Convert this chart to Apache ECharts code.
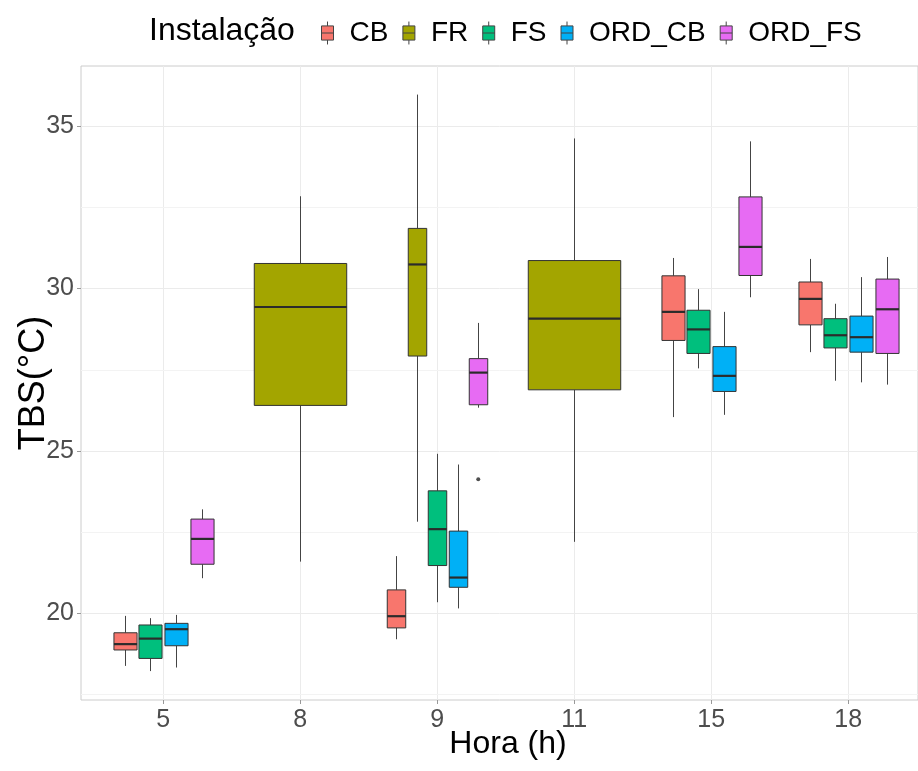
<!DOCTYPE html>
<html>

<head>
  <meta charset="utf-8" />
  <title>TBS por hora</title>
  <script src="https://cdn.jsdelivr.net/npm/echarts@6/dist/echarts.min.js"></script>
  <style>
    html, body {
      margin: 0;
      padding: 0;
      background: #fff;
    }

    #main {
      width: 918px;
      height: 771px;
    }
  </style>
</head>

<body>
  <div id="main"></div>

  <script>
    // horas (eixo x) e instalações
    var hours = ['5', '8', '9', '11', '15', '18'];
    var groups = ['CB', 'FR', 'FS', 'ORD_CB', 'ORD_FS'];
    var colors = ['#F8766D', '#A3A500', '#00BF7D', '#00B0F6', '#E76BF3'];

    // [min, q1, mediana, q3, max] por hora, null = sem dados
    var cbStats = [[18.38, 18.87, 19.05, 19.40, 19.92], null, [19.20, 19.55, 19.91, 20.72, 21.76], null,
      [26.04, 28.40, 29.28, 30.39, 30.94], [28.04, 28.88, 29.68, 30.20, 30.91]];
    var frStats = [null, [21.59, 26.40, 29.43, 30.77, 32.84], [22.82, 27.92, 30.74, 31.85, 35.97],
      [22.20, 26.88, 29.07, 30.86, 34.62], null, null];
    var fsStats = [[18.22, 18.61, 19.22, 19.64, 19.85], null, [20.34, 21.47, 22.59, 23.77, 24.91], null,
      [27.54, 28.00, 28.74, 29.33, 29.98], [27.16, 28.17, 28.56, 29.07, 29.53]];
    var ordCbStats = [[18.33, 19.00, 19.51, 19.69, 19.95], null, [20.15, 20.80, 21.10, 22.53, 24.58], null,
      [26.11, 26.83, 27.31, 28.21, 29.28], [27.11, 28.04, 28.50, 29.15, 30.35]];
    var ordFsStats = [[21.08, 21.51, 22.29, 22.90, 23.20], null, [26.33, 26.42, 27.41, 27.84, 28.94], null,
      [29.73, 30.40, 31.28, 32.82, 34.53], [27.04, 28.00, 29.36, 30.29, 30.97]];
    // pontos fora (grupo, índice da hora, valor)
    var outliers = [['ORD_FS', 2, 24.13]];

    var yTicks = [20, 25, 30, 35];
    var yMinor = [17.5, 22.5, 27.5, 32.5];

    var allStats = [cbStats, frStats, fsStats, ordCbStats, ordFsStats];
    var DODGE = 0.75;
    var PAD = 0.1;

    // posição de cada caixa dentro da hora (dodge)
    function slotOf(g, h) {
      var present = [];
      for (var i = 0; i < groups.length; i++) {
        if (allStats[i][h]) present.push(i);
      }
      return [present.indexOf(g), present.length];
    }

    function renderBox(params, api) {
      var cat = api.value(0), slot = api.value(1), n = api.value(2);
      var slotW = DODGE / n;
      var xc = cat - DODGE / 2 + slotW * (slot + 0.5);
      var hw = api.size([slotW * (1 - PAD), 0])[0] / 2;
      var lo = api.coord([xc, api.value(3)]);
      var q1 = api.coord([xc, api.value(4)]);
      var med = api.coord([xc, api.value(5)]);
      var q3 = api.coord([xc, api.value(6)]);
      var hi = api.coord([xc, api.value(7)]);
      var x = Math.round(lo[0]) + 0.5;
      return {
        type: 'group',
        children: [
          { type: 'line', shape: { x1: x, y1: hi[1], x2: x, y2: q3[1] }, style: { stroke: '#444', lineWidth: 1 } },
          { type: 'line', shape: { x1: x, y1: q1[1], x2: x, y2: lo[1] }, style: { stroke: '#444', lineWidth: 1 } },
          {
            type: 'rect',
            shape: { x: x - hw, y: q3[1], width: 2 * hw, height: q1[1] - q3[1] },
            style: { fill: api.visual('color'), stroke: '#333', lineWidth: 1 }
          },
          { type: 'line', shape: { x1: x - hw, y1: med[1], x2: x + hw, y2: med[1] }, style: { stroke: '#2b2b2b', lineWidth: 2.2 } }
        ]
      };
    }

    // linha menor horizontal atravessando o painel
    function renderMinor(params, api) {
      var cs = params.coordSys;
      var y = Math.round(api.coord([0, api.value(0)])[1]) + 0.5;
      return {
        type: 'line',
        shape: { x1: cs.x, y1: y, x2: cs.x + cs.width, y2: y },
        style: { stroke: '#F3F3F3', lineWidth: 1 }
      };
    }

    var series = [];
    series.push({
      type: 'custom',
      z: 1,
      silent: true,
      renderItem: renderMinor,
      encode: { y: 0 },
      data: yMinor.map(function (v) { return [v]; })
    });

    groups.forEach(function (name, g) {
      var data = [];
      allStats[g].forEach(function (s, h) {
        if (!s) return;
        var pos = slotOf(g, h);
        data.push([h, pos[0], pos[1]].concat(s));
      });
      series.push({
        name: name,
        type: 'custom',
        z: 3,
        itemStyle: { color: colors[g] },
        renderItem: renderBox,
        encode: { x: 0, y: 5 },
        data: data
      });
    });

    series.push({
      type: 'scatter',
      z: 4,
      symbolSize: 4,
      itemStyle: { color: '#222' },
      data: outliers.map(function (o) {
        var g = groups.indexOf(o[0]);
        var pos = slotOf(g, o[1]);
        var slotW = DODGE / pos[1];
        return [o[1] - DODGE / 2 + slotW * (pos[0] + 0.5), o[2]];
      })
    });

    var boxIcon = 'path://M0,4H11V17H0Z M0,10.5H11 M5.5,0V4 M5.5,17V21';

    var chart = echarts.init(document.getElementById('main'));
    chart.setOption({
      backgroundColor: '#fff',
      animation: false,
      textStyle: { fontFamily: 'Liberation Sans' },
      grid: {
        left: 81,
        right: -1,
        top: 66,
        bottom: 71,
        show: true,
        backgroundColor: '#fff',
        borderColor: '#CCCCCC',
        borderWidth: 1
      },
      legend: {
        left: 316,
        top: 12,
        itemWidth: 12,
        itemHeight: 23,
        itemGap: 14,
        icon: boxIcon,
        itemStyle: { borderColor: '#444', borderWidth: 1 },
        textStyle: { fontSize: 28, color: '#000', padding: [2, 0, 0, 11], lineHeight: 30 },
        data: groups
      },
      graphic: [
        {
          type: 'text', left: 149, top: 15,
          style: { text: 'Instalação', font: '32px "Liberation Sans"', fill: '#000' }
        },
        {
          type: 'text', x: 508, y: 744,
          style: {
            text: 'Hora (h)', font: '32px "Liberation Sans"', fill: '#000',
            align: 'center', verticalAlign: 'middle', textAlign: 'center', textVerticalAlign: 'middle'
          }
        },
        {
          type: 'text', x: 34, y: 383, rotation: Math.PI / 2,
          style: {
            text: 'TBS(°C)', font: '36px "Liberation Sans"', fill: '#000',
            align: 'center', verticalAlign: 'middle', textAlign: 'center', textVerticalAlign: 'middle'
          }
        }
      ],
      xAxis: {
        type: 'value',
        min: -0.6,
        max: 5.51,
        axisLine: { show: false, onZero: false },
        axisTick: { show: true, length: 4, lineStyle: { color: '#999' }, customValues: [0, 1, 2, 3, 4, 5] },
        axisLabel: {
          customValues: [0, 1, 2, 3, 4, 5],
          formatter: function (v) { return hours[Math.round(v)]; },
          fontSize: 25,
          color: '#4D4D4D',
          margin: 8
        },
        splitLine: { show: true, lineStyle: { color: '#EBEBEB', width: 1 } }
      },
      yAxis: {
        type: 'value',
        min: 17.33,
        max: 36.85,
        axisLine: { show: false, onZero: false },
        axisTick: { show: true, length: 4, lineStyle: { color: '#999' }, customValues: yTicks },
        axisLabel: { customValues: yTicks, fontSize: 25, color: '#4D4D4D', margin: 7 },
        splitLine: { show: true, lineStyle: { color: '#EBEBEB', width: 1 } }
      },
      series: series
    });
  </script>
</body>

</html>
